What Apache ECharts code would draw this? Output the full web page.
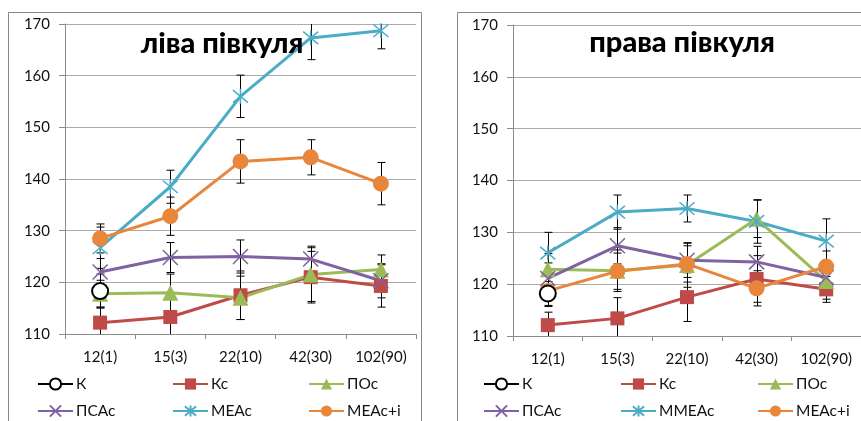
<!DOCTYPE html>
<html>
<head>
<meta charset="utf-8">
<script src="https://cdn.jsdelivr.net/npm/echarts@6/dist/echarts.min.js"></script>
<style>
html,body{margin:0;padding:0;background:#fff;}
#c{width:861px;height:421px;}
</style>
</head>
<body>
<div id="c"></div>
<script>
// ---- data ----
const categories = ['12(1)', '15(3)', '22(10)', '42(30)', '102(90)'];
const yMin = 110, yMax = 170, yStep = 10;

const leftTitle = 'ліва півкуля';
const rightTitle = 'права півкуля';

// left hemisphere
const L_K      = [118.3, null, null, null, null];
const L_Kc     = [112.2, 113.3, 117.5, 121.0, 119.3];
const L_POc    = [117.8, 118.0, 117.0, 121.5, 122.5];
const L_PSAc   = [122.0, 124.8, 125.0, 124.5, 120.3];
const L_MEAc   = [126.7, 138.5, 156.0, 167.3, 168.7];
const L_MEAci  = [128.5, 132.8, 143.4, 144.2, 139.1];
// left error half-widths
const L_K_err     = [3.3, null, null, null, null];
const L_Kc_err    = [3.0, 3.6, 4.7, 5.0, 4.1];
const L_POc_err   = [2.6, 3.6, 4.2, 5.2, 2.8];
const L_PSAc_err  = [2.6, 2.9, 3.2, 2.5, 3.3];
const L_MEAc_err  = [4.0, 3.2, 4.1, 4.2, 3.5];
const L_MEAci_err = [2.8, 3.7, 4.2, 3.4, 4.1];

// right hemisphere
const R_K      = [118.2, null, null, null, null];
const R_Kc     = [112.1, 113.4, 117.5, 121.0, 119.0];
const R_POc    = [122.9, 122.6, 123.7, 132.6, 120.6];
const R_PSAc   = [121.1, 127.4, 124.6, 124.3, 121.3];
const R_MMEAc  = [126.0, 133.9, 134.6, 132.1, 128.3];
const R_MEAci  = [118.7, 122.5, 123.9, 119.2, 123.4];
// right error half-widths
const R_K_err     = [2.3, null, null, null, null];
const R_Kc_err    = [2.5, 4.0, 4.7, 4.5, 2.5];
const R_POc_err   = [3.0, 4.0, 4.3, 3.6, 3.5];
const R_PSAc_err  = [3.0, 3.5, 3.3, 3.0, 3.0];
const R_MMEAc_err = [4.0, 3.3, 2.6, 4.2, 4.3];
const R_MEAci_err = [3.0, 3.5, 3.5, 3.4, 3.0];

// ---- styling ----
const FONT = 'Lato, "Liberation Sans", sans-serif';
const GRID_COLOR = '#ababab';
const AXIS_COLOR = '#8c8c8c';
const C_K = '#000000', C_Kc = '#BE4B48', C_POc = '#9BBB59', C_PSAc = '#7F62A1', C_MEA = '#4BACC6', C_MEAi = '#E8873C';
const SYM_X = 'path://M0,0L10,10M10,0L0,10';
const SYM_AST = 'path://M0,0L10,10M10,0L0,10M5,-1L5,11';

function lineSeries(name, data, color, symbol, size, gi, opts) {
  opts = opts || {};
  return {
    type: 'line', name: name, data: data,
    xAxisIndex: gi, yAxisIndex: gi,
    symbol: symbol, symbolSize: size,
    showSymbol: true, connectNulls: false,
    lineStyle: { color: color, width: 3 },
    itemStyle: Object.assign({ color: color, borderColor: color, borderWidth: opts.bw || 0 }, opts.item || {}),
    z: 3,
    emphasis: { disabled: true },
    animation: false
  };
}

function errSeries(values, errs, gi) {
  const d = [];
  values.forEach((v, i) => { if (v != null && errs[i] != null) d.push([i, v, errs[i]]); });
  return {
    type: 'custom', xAxisIndex: gi, yAxisIndex: gi, z: 1, silent: true,
    data: d,
    renderItem: function (params, api) {
      const cs = params.coordSys;
      const x = api.value(0), v = api.value(1), e = api.value(2);
      const top = api.coord([x, v + e]);
      const bot = api.coord([x, v - e]);
      const yTop = Math.max(top[1], cs.y);
      const yBot = Math.min(bot[1], cs.y + cs.height);
      const cx = Math.round(top[0]) + 0.5;
      const ch = [];
      const st = { stroke: '#000', lineWidth: 1 };
      ch.push({ type: 'line', shape: { x1: cx, y1: yTop, x2: cx, y2: yBot }, style: st });
      if (top[1] >= cs.y) ch.push({ type: 'line', shape: { x1: cx - 4, y1: top[1], x2: cx + 4, y2: top[1] }, style: st });
      if (bot[1] <= cs.y + cs.height) ch.push({ type: 'line', shape: { x1: cx - 4, y1: bot[1], x2: cx + 4, y2: bot[1] }, style: st });
      return { type: 'group', children: ch };
    },
    animation: false
  };
}

function panelSeries(gi, K, Kc, POc, PSAc, MEA, MEAi, meaName, errs) {
  return [
    errSeries(K, errs[0], gi), errSeries(Kc, errs[1], gi), errSeries(POc, errs[2], gi),
    errSeries(PSAc, errs[3], gi), errSeries(MEA, errs[4], gi), errSeries(MEAi, errs[5], gi),
    lineSeries('Кс', Kc, C_Kc, 'rect', 14, gi),
    lineSeries('ПОс', POc, C_POc, 'triangle', 16, gi),
    lineSeries('ПСАс', PSAc, C_PSAc, SYM_X, 15, gi, { bw: 1.5 }),
    lineSeries(meaName, MEA, C_MEA, SYM_AST, 15, gi, { bw: 1.5 }),
    lineSeries('МЕАс+і', MEAi, C_MEAi, 'circle', 16, gi),
    lineSeries('К', K, C_K, 'emptyCircle', 16, gi, { bw: 3.5, item: { color: '#000', borderColor: '#000' } })
  ];
}

function xAxis(gi) {
  return {
    type: 'category', gridIndex: gi, data: categories, boundaryGap: true,
    axisLine: { lineStyle: { color: AXIS_COLOR, width: 1 } },
    axisTick: { show: true, length: 5, lineStyle: { color: AXIS_COLOR } },
    axisLabel: { color: '#111', fontSize: 15, fontFamily: FONT, margin: 16 },
    splitLine: { show: false }
  };
}
function yAxis(gi) {
  return {
    type: 'value', gridIndex: gi, min: yMin, max: yMax, interval: yStep,
    axisLine: { show: true, lineStyle: { color: AXIS_COLOR, width: 1 } },
    axisTick: { show: true, length: 6, lineStyle: { color: AXIS_COLOR } },
    axisLabel: { color: '#111', fontSize: 15, fontFamily: FONT, margin: 15 },
    splitLine: { show: true, lineStyle: { color: GRID_COLOR, width: 1 } }
  };
}
function legendCol(left, names) {
  return {
    orient: 'vertical', left: left, top: 376, height: 60, width: 130, padding: 0,
    itemWidth: 35, itemHeight: 14, itemGap: 11,
    data: names, selectedMode: false,
    textStyle: { fontSize: 15.5, fontFamily: FONT, color: '#111', padding: [0, 0, 0, -2] }
  };
}

const chart = echarts.init(document.getElementById('c'), null, { renderer: 'canvas' });
chart.setOption({
  animation: false,
  backgroundColor: '#fff',
  grid: [
    { left: 65, top: 24, width: 351, height: 310 },
    { left: 513, top: 25, width: 351, height: 311 }
  ],
  xAxis: [xAxis(0), xAxis(1)],
  yAxis: [yAxis(0), yAxis(1)],
  legend: [
    legendCol(37, ['К', 'ПСАс']), legendCol(172, ['Кс', 'МЕАс']), legendCol(308, ['ПОс', 'МЕАс+і']),
    legendCol(483, ['К', 'ПСАс']), legendCol(620, ['Кс', 'ММЕАс']), legendCol(757, ['ПОс', 'МЕАс+і'])
  ],
  graphic: [
    { type: 'rect', shape: { x: 8.5, y: 12.5, width: 413, height: 420 }, style: { fill: 'none', stroke: '#888', lineWidth: 1 }, z: 0, silent: true },
    { type: 'rect', shape: { x: 457.5, y: 12.5, width: 420, height: 420 }, style: { fill: 'none', stroke: '#888', lineWidth: 1 }, z: 0, silent: true },
    { type: 'text', x: 222, y: 44, z: 10, style: { text: leftTitle, fill: '#000', font: '900 29px ' + FONT, textAlign: 'center', textVerticalAlign: 'middle' } },
    { type: 'text', x: 682, y: 43, z: 10, style: { text: rightTitle, fill: '#000', font: '900 29px ' + FONT, textAlign: 'center', textVerticalAlign: 'middle' } }
  ],
  series: [].concat(
    panelSeries(0, L_K, L_Kc, L_POc, L_PSAc, L_MEAc, L_MEAci, 'МЕАс',
      [L_K_err, L_Kc_err, L_POc_err, L_PSAc_err, L_MEAc_err, L_MEAci_err]),
    panelSeries(1, R_K, R_Kc, R_POc, R_PSAc, R_MMEAc, R_MEAci, 'ММЕАс',
      [R_K_err, R_Kc_err, R_POc_err, R_PSAc_err, R_MMEAc_err, R_MEAci_err])
  )
});
</script>
</body>
</html>
